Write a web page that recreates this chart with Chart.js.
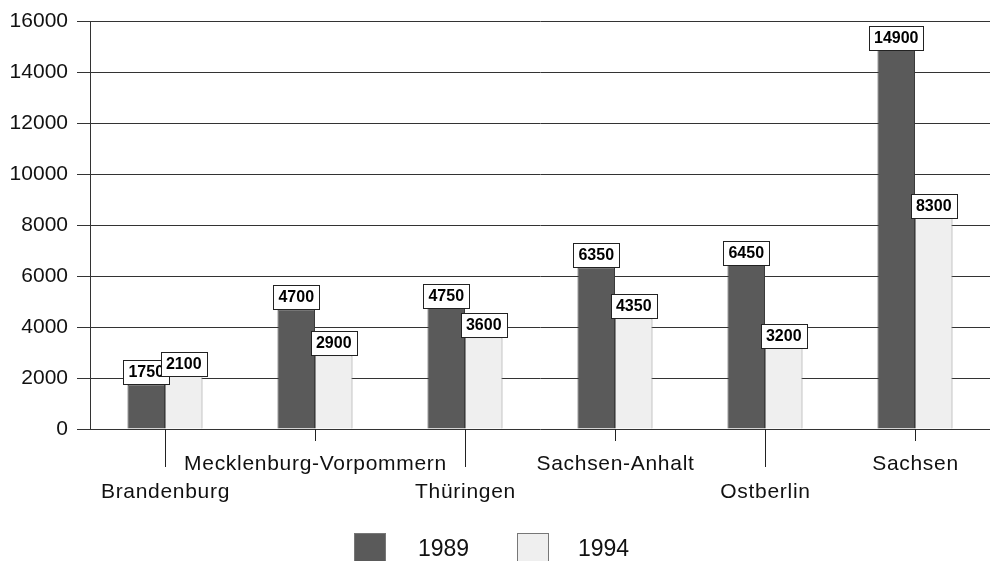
<!DOCTYPE html>
<html>
<head>
<meta charset="utf-8">
<script src="https://cdn.jsdelivr.net/npm/chart.js@4.4.3/dist/chart.umd.min.js"></script>
<style>
	html, body { margin: 0; padding: 0; background: #fff; }
	#wrap { width: 994px; height: 561px; position: relative; }
</style>
</head>
<body>
<div id="wrap"><canvas id="chart"></canvas></div>
<script>
	// Data.
	var categories = ['Brandenburg', 'Mecklenburg-Vorpommern', 'Thüringen', 'Sachsen-Anhalt', 'Ostberlin', 'Sachsen'];
	var values1989 = [1750, 4700, 4750, 6350, 6450, 14900];
	var values1994 = [2100, 2900, 3600, 4350, 3200, 8300];
	var seriesNames = ['1989', '1994'];
	var yTicks = [0, 2000, 4000, 6000, 8000, 10000, 12000, 14000, 16000];

	var FONT = '"Liberation Sans", Arial, sans-serif';
	var DARK = '#5a5a5a';
	var LIGHT = '#efefef';

	// Boxed value labels above every bar.
	var valueLabels = {
		id: 'valueLabels',
		afterDatasetsDraw: function (chart) {
			var ctx = chart.ctx;
			ctx.save();
			ctx.font = 'bold 16px ' + FONT;
			ctx.textAlign = 'center';
			ctx.textBaseline = 'middle';
			chart.data.datasets.forEach(function (ds, di) {
				var meta = chart.getDatasetMeta(di);
				meta.data.forEach(function (bar, i) {
					var txt = String(ds.data[i]);
					var w = Math.round(ctx.measureText(txt).width + 10);
					var h = 24;
					var x = Math.round(bar.x - w / 2);
					var y = Math.round(bar.y - h);
					ctx.fillStyle = '#fff';
					ctx.fillRect(x, y, w, h);
					ctx.strokeStyle = '#222';
					ctx.lineWidth = 1;
					ctx.strokeRect(x + 0.5, y + 0.5, w, h);
					ctx.fillStyle = '#000';
					ctx.fillText(txt, bar.x, y + h / 2 + 1);
				});
			});
			ctx.restore();
		}
	};

	// Staggered category labels with long/short tick lines, plus legend.
	var axisExtras = {
		id: 'axisExtras',
		afterDraw: function (chart) {
			var ctx = chart.ctx;
			var xs = chart.scales.x;
			var base = chart.scales.y.getPixelForValue(0);
			ctx.save();
			ctx.strokeStyle = '#222';
			ctx.lineWidth = 1;
			ctx.fillStyle = '#111';
			ctx.font = '21px ' + FONT;
			ctx.letterSpacing = '0.7px';
			ctx.textAlign = 'center';
			ctx.textBaseline = 'middle';
			categories.forEach(function (c, i) {
				var px = Math.round(xs.getPixelForValue(i)) + 0.5;
				var low = i % 2 === 0;
				ctx.beginPath();
				ctx.moveTo(px, base);
				ctx.lineTo(px, base + (low ? 38 : 12));
				ctx.stroke();
				ctx.fillText(c, px, low ? 492 : 464);
			});

			// Legend.
			var items = [
				{ name: seriesNames[0], color: DARK, bx: 354, tx: 418 },
				{ name: seriesNames[1], color: LIGHT, bx: 517, tx: 578 }
			];
			ctx.font = '23px ' + FONT;
			ctx.letterSpacing = '0px';
			ctx.textAlign = 'left';
			items.forEach(function (it) {
				ctx.fillStyle = it.color;
				ctx.fillRect(it.bx, 533, 31, 30);
				ctx.strokeStyle = '#777';
				ctx.strokeRect(it.bx + 0.5, 533.5, 31, 30);
				ctx.fillStyle = '#111';
				ctx.fillText(it.name, it.tx, 550);
			});
			ctx.restore();
		}
	};

	new Chart(document.getElementById('chart'), {
		type: 'bar',
		data: {
			labels: categories,
			datasets: [
				{
					label: seriesNames[0],
					data: values1989,
					backgroundColor: DARK,
					borderColor: '#3a3a3a',
					borderWidth: 1,
					categoryPercentage: 0.5,
					barPercentage: 1.0
				},
				{
					label: seriesNames[1],
					data: values1994,
					backgroundColor: LIGHT,
					borderColor: '#8a8a8a',
					borderWidth: 1,
					categoryPercentage: 0.5,
					barPercentage: 1.0
				}
			]
		},
		options: {
			responsive: true,
			maintainAspectRatio: false,
			animation: false,
			layout: { padding: { top: 20, right: 4, bottom: 132, left: 0 } },
			plugins: {
				legend: { display: false },
				tooltip: { enabled: false }
			},
			scales: {
				x: {
					grid: { display: false },
					border: { display: false },
					ticks: { display: false },
					afterFit: function (s) { s.height = 0; }
				},
				y: {
					min: 0,
					max: 16000,
					afterFit: function (s) { s.width = 90; },
					afterBuildTicks: function (s) {
						s.ticks = yTicks.map(function (v) { return { value: v }; });
					},
					grid: { color: '#333', lineWidth: 1, tickLength: 13, drawOnChartArea: true },
					border: { display: true, color: '#333', width: 1 },
					ticks: {
						color: '#111',
						font: { family: FONT, size: 21 },
						padding: 9,
						callback: function (v) { return String(v); }
					}
				}
			}
		},
		plugins: [valueLabels, axisExtras]
	});
</script>
</body>
</html>
